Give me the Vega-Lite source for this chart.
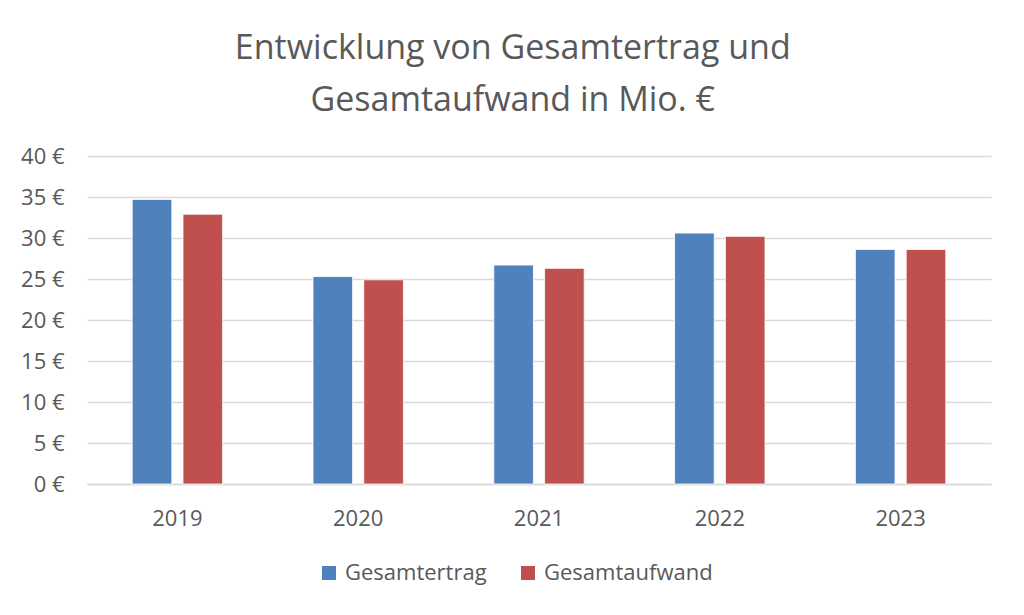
{
  "$schema": "https://vega.github.io/schema/vega-lite/v6.json",
  "width": 904,
  "height": 328,
  "padding": {"left": 20, "right": 34, "top": 32, "bottom": 20},
  "background": "white",
  "title": {
    "text": ["Entwicklung von Gesamtertrag und", "Gesamtaufwand in Mio. €"],
    "font": "Open Sans",
    "fontSize": 34,
    "fontWeight": "normal",
    "color": "#595959",
    "anchor": "middle",
    "frame": "bounds",
    "lineHeight": 52,
    "offset": 27,
    "dx": 7
  },
  "data": {
    "values": [
      {"jahr": "2019", "art": "Gesamtertrag", "wert": 34.7},
      {"jahr": "2019", "art": "Gesamtaufwand", "wert": 32.9},
      {"jahr": "2020", "art": "Gesamtertrag", "wert": 25.3},
      {"jahr": "2020", "art": "Gesamtaufwand", "wert": 24.9},
      {"jahr": "2021", "art": "Gesamtertrag", "wert": 26.7},
      {"jahr": "2021", "art": "Gesamtaufwand", "wert": 26.3},
      {"jahr": "2022", "art": "Gesamtertrag", "wert": 30.6},
      {"jahr": "2022", "art": "Gesamtaufwand", "wert": 30.2},
      {"jahr": "2023", "art": "Gesamtertrag", "wert": 28.6},
      {"jahr": "2023", "art": "Gesamtaufwand", "wert": 28.6}
    ]
  },
  "mark": {"type": "bar", "stroke": "white", "strokeWidth": 0.8},
  "encoding": {
    "x": {
      "field": "jahr",
      "type": "nominal",
      "scale": {"paddingInner": 0.5, "paddingOuter": 0.25},
      "axis": {
        "title": null,
        "labelAngle": 0,
        "ticks": false,
        "domainColor": "#d9d9d9",
        "domainWidth": 1.5,
        "labelPadding": 24,
        "labelFont": "Open Sans",
        "labelFontSize": 22,
        "labelColor": "#595959"
      }
    },
    "xOffset": {
      "field": "art",
      "sort": ["Gesamtertrag", "Gesamtaufwand"],
      "scale": {"paddingInner": 0.22, "paddingOuter": 0}
    },
    "y": {
      "field": "wert",
      "type": "quantitative",
      "scale": {"domain": [0, 40]},
      "axis": {
        "title": null,
        "values": [0, 5, 10, 15, 20, 25, 30, 35, 40],
        "labelExpr": "datum.value + ' €'",
        "ticks": false,
        "domain": false,
        "gridColor": "#d9d9d9",
        "gridWidth": 1.5,
        "labelPadding": 23,
        "labelFont": "Open Sans",
        "labelFontSize": 22,
        "labelColor": "#595959"
      }
    },
    "color": {
      "field": "art",
      "type": "nominal",
      "sort": ["Gesamtertrag", "Gesamtaufwand"],
      "scale": {"domain": ["Gesamtertrag", "Gesamtaufwand"], "range": ["#4f81bd", "#c0504d"]},
      "legend": {
        "title": null,
        "orient": "none",
        "legendX": 231,
        "legendY": 406,
        "direction": "horizontal",
        "symbolType": "square",
        "symbolSize": 196,
        "symbolStrokeWidth": 0,
        "labelFont": "Open Sans",
        "labelFontSize": 22,
        "labelColor": "#595959",
        "labelOffset": 5,
        "labelLimit": 400,
        "columnPadding": 30
      }
    }
  },
  "config": {
    "view": {"stroke": null}
  }
}
